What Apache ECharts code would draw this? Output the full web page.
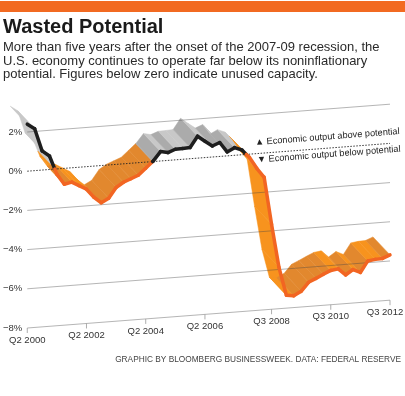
<!DOCTYPE html>
<html>
<head>
<meta charset="utf-8">
<style>
html,body{margin:0;padding:0;background:#fff;}
#chart{width:405px;height:396px;}
</style>
<script src="https://cdn.jsdelivr.net/npm/echarts@6/dist/echarts.min.js"></script>
</head>
<body>
<div id="chart"></div>
<script>
// output gap, % of potential output, one value per quarter, Q2 2000 .. Q3 2012
var gap = [2.40, 2.14, 0.98, 0.69, -0.27, -0.81, -0.73, -0.94, -1.15, -1.59,
           -1.90, -1.70, -1.18, -0.94, -0.79, -0.64, -0.31, 0.02, 0.48, 0.40,
           0.54, 0.55, 0.57, 1.12, 0.83, 0.56, 0.71, 0.20, 0.39, 0.24,
           -0.16, -0.75, -1.24, -3.66, -5.89, -7.34, -7.40, -7.20, -6.77, -6.60,
           -6.42, -6.25, -6.20, -6.54, -6.29, -6.47, -5.91, -5.86, -5.84, -5.69];
var tickIdx = [0, 8, 16, 24, 33, 41, 49];
var tickLabels = ['Q2 2000', 'Q2 2002', 'Q2 2004', 'Q2 2006', 'Q3 2008', 'Q3 2010', 'Q3 2012'];
var gridVals = [2, 0, -2, -4, -6, -8];

var FONT = 'Liberation Sans, Arial, Helvetica, sans-serif';
var SLANT = 0.0767;      // whole plane leans up to the right
var DEPTH = [-17, -18];  // how far the ribbon is pushed back
var last = gap.length - 1;

// data coords -> pixel, then lean the plane
function flat(api, i, v) {
	var p = api.coord([i, v]);
	var x0 = api.coord([0, v])[0];
	return [p[0], p[1] - SLANT * (p[0] - x0)];
}
function back(p) { return [p[0] + DEPTH[0], p[1] + DEPTH[1]]; }

// split a segment where it crosses zero
function pieces(api) {
	var i0 = api.value(0), v0 = api.value(1), i1 = api.value(2), v1 = api.value(3);
	var a = flat(api, i0, v0), b = flat(api, i1, v1);
	var rise = v1 - v0;
	if (v0 * v1 < 0) {
		var t = v0 / (v0 - v1);
		var m = [a[0] + (b[0] - a[0]) * t, a[1] + (b[1] - a[1]) * t];
		return [[a, m, v0 > 0, rise], [m, b, v1 > 0, rise]];
	}
	return [[a, b, v0 + v1 > 0, rise]];
}

function renderFace(params, api) {
	return {
		type: 'group',
		children: pieces(api).map(function (pc) {
			var dark = pc[3] > 0.05;
			var fill = pc[2] ? (dark ? '#ABABAB' : '#C8C8C8') : (dark ? '#E2882E' : '#F7931E');
			return {
				type: 'polygon',
				shape: { points: [pc[0], pc[1], back(pc[1]), back(pc[0])] },
				style: { fill: fill, stroke: fill, lineWidth: 0.5 }
			};
		})
	};
}

function renderEdge(params, api) {
	return {
		type: 'group',
		children: pieces(api).map(function (pc) {
			return {
				type: 'polyline',
				shape: { points: [pc[0], pc[1]] },
				style: { stroke: pc[2] ? '#1E1E1E' : '#F26522', lineWidth: 3.5, lineCap: 'round', fill: null }
			};
		})
	};
}

function renderGrid(params, api) {
	var v = api.value(0);
	var a = flat(api, 0, v), b = flat(api, last, v);
	var zero = v === 0;
	return {
		type: 'line',
		shape: { x1: a[0], y1: a[1], x2: b[0], y2: b[1] },
		style: zero ? { stroke: '#222', lineWidth: 0.9, lineDash: [1.5, 1.5] }
		            : { stroke: 'rgba(70,70,70,0.5)', lineWidth: 0.8 }
	};
}

function renderTick(params, api) {
	var p = flat(api, api.value(0), -8);
	var lx = Math.min(p[0], 385);
	return {
		type: 'group',
		children: [
			{ type: 'line', shape: { x1: p[0], y1: p[1], x2: p[0], y2: p[1] + 5 },
			  style: { stroke: '#999', lineWidth: 0.8 } },
			{ type: 'text', x: lx, y: p[1] + 12,
			  style: { text: tickLabels[api.value(1)], fill: '#333', font: '9.5px ' + FONT,
			           align: 'center', verticalAlign: 'middle' } }
		]
	};
}

var segs = [];
for (var i = 0; i < last; i++) segs.push([i, gap[i], i + 1, gap[i + 1]]);

var myChart = echarts.init(document.getElementById('chart'));
var option = {
	backgroundColor: '#fff',
	animation: false,
	grid: { left: 26, right: 15, top: 132, bottom: 68 },
	xAxis: { type: 'value', min: 0, max: last, show: false },
	yAxis: {
		type: 'value', min: -8, max: 2, interval: 2,
		axisLine: { show: false }, axisTick: { show: false }, splitLine: { show: false },
		axisLabel: {
			margin: 5, fontSize: 9.5, color: '#333', fontFamily: FONT,
			formatter: function (v) { return (v < 0 ? '\u2212' + (-v) : v) + '%'; }
		}
	},
	series: [
		{ type: 'custom', z: 1, renderItem: renderFace, data: segs },
		{ type: 'custom', z: 2, renderItem: renderGrid, data: gridVals.map(function (v) { return [v]; }) },
		{ type: 'custom', z: 3, renderItem: renderEdge, data: segs },
		{ type: 'custom', z: 2, renderItem: renderTick, data: tickIdx.map(function (d, k) { return [d, k]; }) }
	],
	graphic: [
		{ type: 'rect', shape: { x: 0, y: 1, width: 405, height: 11 }, style: { fill: '#F26A21' } },
		{ type: 'text', x: 3, y: 27.5, style: { text: 'Wasted Potential', font: 'bold 20px ' + FONT, fill: '#1A1A1A', verticalAlign: 'middle' } },
		{ type: 'text', x: 3, y: 47.5, style: { text: 'More than five years after the onset of the 2007-09 recession, the', font: '13px ' + FONT, fill: '#2A2A2A', verticalAlign: 'middle' } },
		{ type: 'text', x: 3, y: 61, style: { text: 'U.S. economy continues to operate far below its noninflationary', font: '13px ' + FONT, fill: '#2A2A2A', verticalAlign: 'middle' } },
		{ type: 'text', x: 3, y: 74.5, style: { text: 'potential. Figures below zero indicate unused capacity.', font: '13px ' + FONT, fill: '#2A2A2A', verticalAlign: 'middle' } },
		{ type: 'text', x: 255, y: 142.5, rotation: Math.atan(SLANT), style: { text: '\u25B2 Economic output above potential', font: '9.2px ' + FONT, fill: '#222', verticalAlign: 'middle' } },
		{ type: 'text', x: 257, y: 160, rotation: Math.atan(SLANT), style: { text: '\u25BC Economic output below potential', font: '9.2px ' + FONT, fill: '#222', verticalAlign: 'middle' } },
		{ type: 'text', x: 401, y: 360, style: { text: 'GRAPHIC BY BLOOMBERG BUSINESSWEEK. DATA: FEDERAL RESERVE', font: '8.3px ' + FONT, fill: '#444', align: 'right', verticalAlign: 'middle' } }
	]
};
myChart.setOption(option);
</script>
</body>
</html>
